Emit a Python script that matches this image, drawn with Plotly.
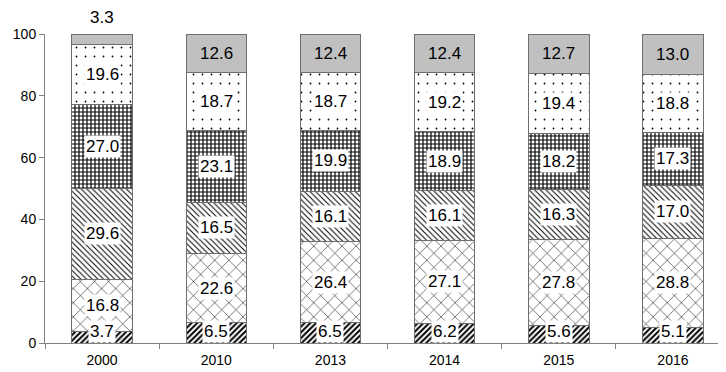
import numpy as np
import plotly.graph_objects as go

years = ["2000", "2010", "2013", "2014", "2015", "2016"]

# segments from bottom to top
seg1 = [3.7, 6.5, 6.5, 6.2, 5.6, 5.1]
seg2 = [16.8, 22.6, 26.4, 27.1, 27.8, 28.8]
seg3 = [29.6, 16.5, 16.1, 16.1, 16.3, 17.0]
seg4 = [27.0, 23.1, 19.9, 18.9, 18.2, 17.3]
seg5 = [19.6, 18.7, 18.7, 19.2, 19.4, 18.8]
seg6 = [3.3, 12.6, 12.4, 12.4, 12.7, 13.0]

segments = [seg1, seg2, seg3, seg4, seg5, seg6]
patterns = [
    dict(shape="/", size=4, solidity=0.5),
    dict(shape="x", size=10, solidity=0.1),
    dict(shape="\\", size=4, solidity=0.25),
    dict(shape="+", size=4, solidity=0.5),
    dict(shape=".", size=9, solidity=0.03),
    None,
]

xpos = list(range(len(years)))

fig = go.Figure()
for i, vals in enumerate(segments):
    pat = patterns[i]
    if pat is None:
        marker = dict(color="#c0c0c0", line=dict(color="#6e6e6e", width=1))
    else:
        marker = dict(color="white", line=dict(color="#6e6e6e", width=1),
                      pattern=dict(shape=pat["shape"], size=pat["size"],
                                   solidity=pat["solidity"], fgcolor="black",
                                   bgcolor="white", fillmode="replace"))
    fig.add_trace(go.Bar(x=xpos, y=vals, marker=marker, width=0.53,
                         showlegend=False, hoverinfo="skip"))

# data labels
label_font = dict(family="Liberation Sans, Arial", size=17, color="black")
cum = np.zeros(len(years))
for i, vals in enumerate(segments):
    vals = np.array(vals, dtype=float)
    mids = cum + vals / 2
    for j in xpos:
        txt = f"{vals[j]:.1f}"
        if i == 5 and vals[j] < 5:
            fig.add_annotation(x=j, y=100, text=txt, showarrow=False,
                               yanchor="bottom", yshift=5, font=label_font)
        elif i == 0:
            fig.add_annotation(x=j, y=0, text=txt, showarrow=False,
                               yanchor="bottom", bgcolor="white",
                               borderpad=1, font=label_font)
        else:
            fig.add_annotation(x=j, y=float(mids[j]), text=txt,
                               showarrow=False,
                               bgcolor="white" if i < 5 else "rgba(0,0,0,0)",
                               borderpad=1, font=label_font)
    cum = cum + vals

fig.update_layout(
    barmode="stack",
    width=726, height=372,
    margin=dict(l=37, r=4, t=26, b=37),
    plot_bgcolor="white", paper_bgcolor="white",
    font=dict(family="Liberation Sans, Arial", size=14, color="black"),
)
fig.update_yaxes(range=[0, 100], dtick=20, showgrid=False, zeroline=False,
                 showline=True, linecolor="#808080", linewidth=1,
                 ticks="outside", ticklen=5, tickcolor="#808080")
fig.update_xaxes(type="linear", range=[-0.5, len(years) - 0.5],
                 tickvals=xpos, ticktext=years,
                 ticks="outside", ticklen=4, tickcolor="rgba(0,0,0,0)",
                 showgrid=False, zeroline=False, showline=True,
                 linecolor="#808080", linewidth=1,
                 minor=dict(tickvals=[k - 0.5 for k in range(len(years) + 1)],
                            ticks="outside", ticklen=5, tickcolor="#808080",
                            showgrid=False))

fig.write_html("out.html")
